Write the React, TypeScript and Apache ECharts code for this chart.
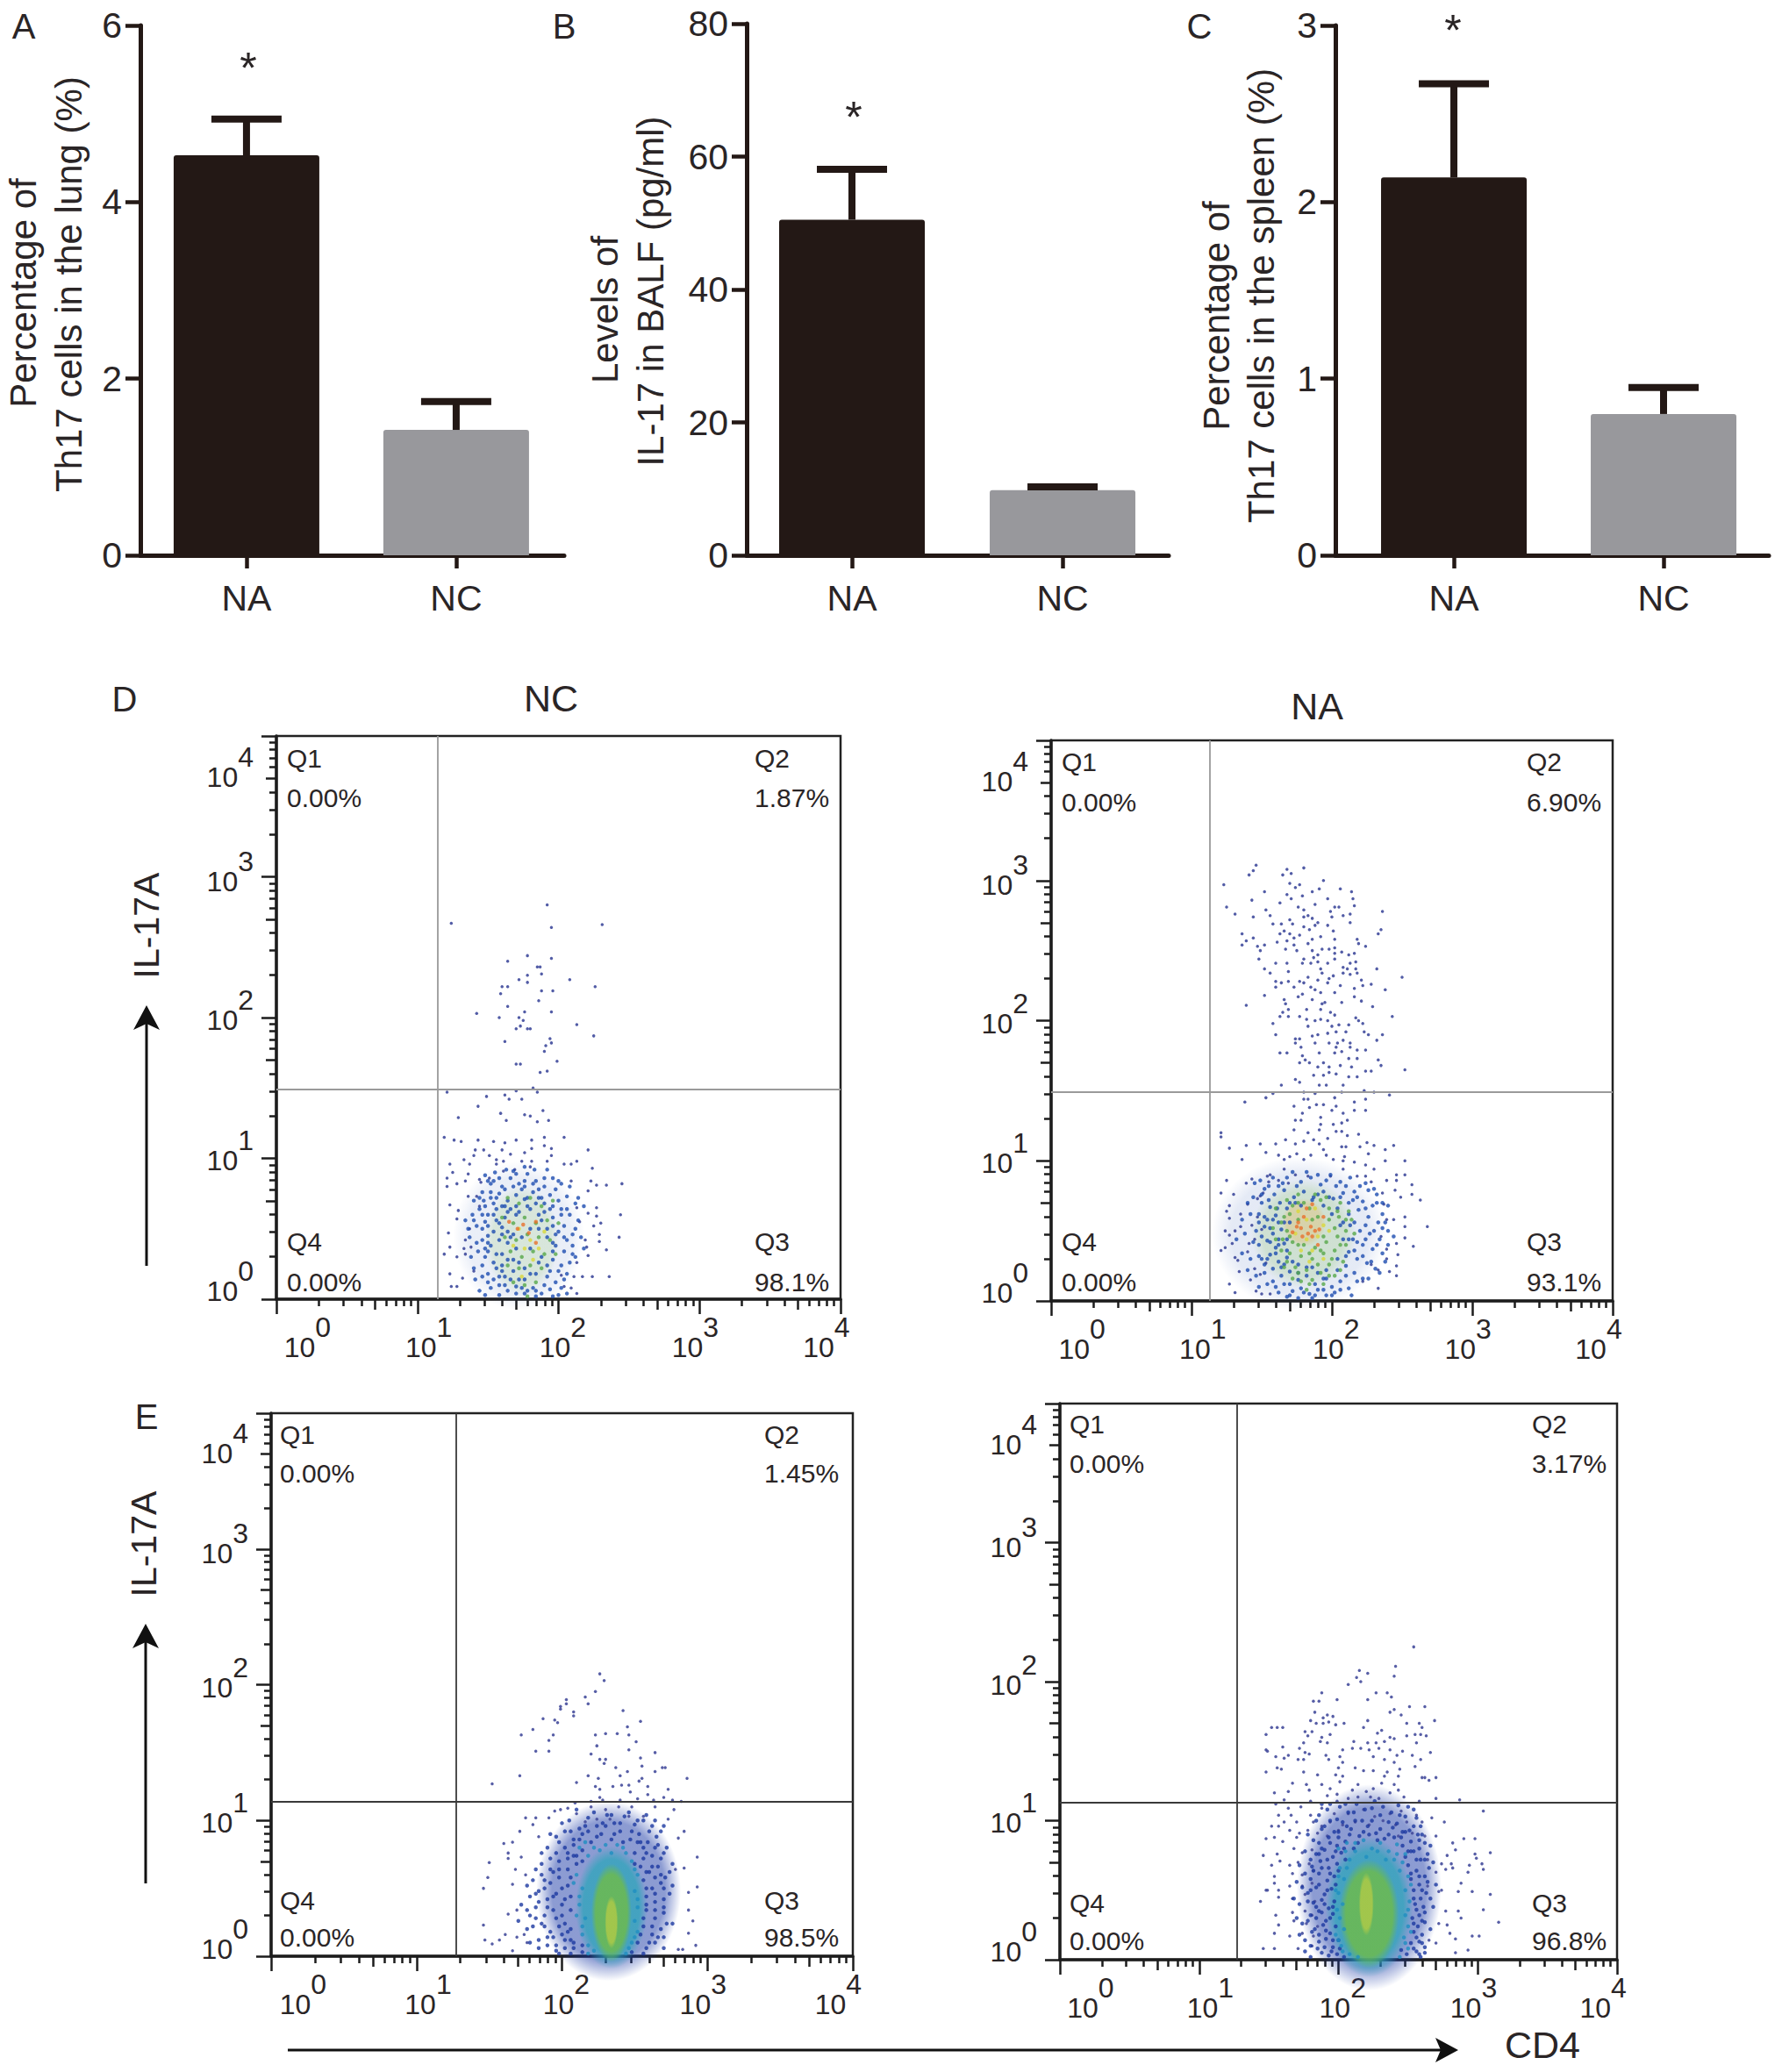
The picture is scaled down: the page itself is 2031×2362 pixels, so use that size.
import React, { useEffect, useRef } from "react";
import * as echarts from "echarts";

const FONT = "Liberation Sans";
const INK = "#2a2526";

const categories = ["NA", "NC"];
const lungMeans = [4.53, 1.42];
const lungErrTops = [4.94, 1.74];
const balfMeans = [50.5, 9.8];
const balfErrTops = [58.1, 10.3];
const spleenMeans = [2.14, 0.8];
const spleenErrTops = [2.67, 0.95];
const barColors = ["#231815", "#98989c"];

const exponents = [0, 1, 2, 3, 4];
const xLabelAt = [0.22, 1.08, 2.03, 2.97, 3.9];
const yLabelAt = [0.128, 1.056, 2.05, 3.04, 3.776];

// Flow panels: pairs of x,y in hundredths of a decade.
const dLeftSparse = [192,280,124,267,195,264,231,266,164,240,178,244,195,242,185,236,187,236,188,231,178,230,178,225,172,227,208,227,226,222,160,222,164,222,159,217,196,219,188,219,186,212,142,203,164,208,176,204,195,204,158,200,172,200,175,198,213,195,170,192,173,194,178,192,180,192,225,187,162,183,194,185,195,182,191,180,190,176,199,169,170,167,173,167,187,161,192,162,121,147,170,148,182,150,185,147,149,144,162,145,165,142,174,142,143,137,129,129,159,132,176,131,180,130,189,134,163,127,185,126,193,127,119,115,126,113,131,112,143,113,154,112,162,111,170,113,181,113,190,115,204,115,190,109,195,107,221,106,141,106,147,106,160,106,176,104,181,107,140,102,151,102,166,103,195,102,133,99,123,96,137,96,156,99,161,98,174,98,181,98,192,98,204,96,209,96,213,98,224,93,156,96,169,92,180,94,121,86,125,90,136,89,144,85,151,86,161,91,121,80,128,82,134,84,123,67,129,63,128,57,122,47,119,32,128,30,123,37,123,18,124,9,134,32,132,15,133,36,128,9,140,20,138,37,137,50,134,42,142,73,145,83,136,73,144,66,245,82,234,81,227,81,223,84,221,77,244,60,243,44,227,65,227,59,221,61,230,54,225,52,229,46,229,41,234,35,220,37,219,42,215,55,213,65,209,84,221,31,217,16,224,16,236,16,213,26,209,8,213,4,204,9,211,16,202,17];
const dLeftBlue = [148,88,154,84,160,80,166,86,172,82,178,89,184,84,190,80,196,86,146,76,152,72,158,75,164,70,170,74,176,71,182,76,188,72,194,74,200,70,206,73,144,64,150,60,156,64,162,58,190,62,196,58,202,64,208,60,214,56,142,52,148,55,154,48,160,51,192,50,198,46,204,52,210,46,216,44,146,42,152,38,158,42,198,38,204,34,210,38,218,36,148,30,154,26,160,32,196,28,202,24,208,26,150,18,156,22,162,16,168,20,176,14,184,18,192,16,198,12,204,14,152,8,158,10,164,6,170,9,176,4,182,8,188,4,194,7,200,3,158,3,143,34,137,44,139,60,134,56,146,24,141,14,150,45,147,70,155,90,163,92,176,94,183,92,164,62,170,60,180,64,186,60,150,84,152,82,158,86,168,91,170,89,174,78,176,80,186,78,192,92,198,78,202,82,208,80,214,72,218,66,212,68,140,70,144,72,148,66,154,68,160,66,166,64,172,62,178,66,184,68,190,68,196,66,202,60,206,64,136,50,140,56,146,50,150,52,156,56,160,46,164,48,168,46,174,44,180,50,186,50,192,44,196,40,200,48,206,42,212,50,138,30,142,40,148,36,150,34,156,32,160,24,164,28,168,28,172,26,176,22,180,18,186,26,192,24,196,34,200,20,206,18,212,30,140,22,146,16,150,12,154,14,158,16,162,10,166,14,170,4,174,8,178,6,184,2,190,10,196,2,202,8,206,4,144,6,148,3,152,76,156,72,162,78,168,80,176,84,182,82,190,86,200,84,194,64,186,72,178,72,170,66,162,66,154,60,146,60,150,40,158,54,164,40,170,36,180,36,188,30,194,20,184,6,172,14,160,20,166,44,188,56,196,52,204,44,210,32];
const dLeftGreen = [164,72,172,68,180,72,188,66,196,70,160,58,168,54,176,58,184,54,192,56,200,54,162,44,170,42,178,46,186,44,194,42,166,34,174,30,182,34,190,32,198,32,164,24,172,22,180,24,188,22,168,12,176,10,184,12,178,2];
const dLeftYellow = [172,50,180,42,186,36,168,38,176,36,182,28,174,16,190,48];
const dLeftHot = [165,55,171,50,179,47,184,55,175,53,184,40];

const dRightSparse = [146,311,141,304,144,307,123,297,165,304,168,308,171,305,180,309,194,300,206,294,214,292,215,287,216,282,236,278,191,294,186,292,170,298,174,295,177,297,179,289,168,290,171,287,163,284,152,292,143,286,125,281,131,276,144,274,153,279,156,275,176,281,180,279,188,283,202,281,205,281,197,287,199,278,200,274,208,275,213,276,213,270,235,265,233,262,136,262,144,259,139,257,136,254,158,269,164,269,170,272,172,269,180,274,183,275,186,273,190,270,188,268,184,265,180,267,163,262,166,264,170,262,177,261,168,257,173,259,161,256,173,254,186,258,192,260,197,268,201,264,202,258,218,258,219,255,224,253,147,253,152,254,149,250,167,251,175,250,183,255,186,250,193,251,198,251,202,252,202,248,207,249,212,247,216,248,190,247,187,245,148,244,160,241,168,241,180,244,179,241,185,241,190,242,197,241,202,244,217,242,213,241,152,237,156,234,169,235,192,237,193,234,208,238,211,237,217,237,218,234,232,237,250,231,183,231,190,229,198,230,201,232,208,234,213,233,221,229,160,228,164,227,169,228,177,228,160,224,173,224,180,227,185,224,197,227,206,225,216,223,222,225,228,226,238,222,152,218,176,217,179,219,188,222,192,220,202,220,216,217,186,215,139,211,166,215,167,212,193,212,195,213,207,213,221,214,229,210,169,208,165,206,182,208,192,208,199,206,202,204,243,203,163,203,169,203,177,203,182,201,188,200,192,201,197,200,217,202,219,200,158,198,212,197,222,198,183,196,200,196,205,197,160,190,190,190,186,189,197,191,203,192,210,192,223,192,226,190,236,190,174,187,177,187,208,186,213,184,232,186,188,184,198,184,174,184,204,184,203,181,178,181,213,181,218,179,224,179,202,177,207,178,163,177,168,177,191,177,179,175,181,172,184,170,177,170,212,173,218,173,233,172,235,168,190,167,194,170,198,167,206,168,214,167,224,164,228,164,252,165,187,161,194,161,198,163,203,162,212,160,218,160,174,158,177,156,164,154,191,154,196,154,208,154,138,142,153,145,158,148,180,149,188,148,207,149,223,150,230,149,241,147,180,144,183,144,202,145,216,142,224,144,173,139,184,138,189,140,194,140,203,139,200,136,216,136,224,136,179,134,174,129,178,129,192,131,208,134,211,129,207,127,192,126,201,126,173,122,191,122,183,120,203,121,207,121,121,120,121,117,211,118,219,119,187,115,197,116,167,115,127,109,139,111,149,112,160,112,174,112,180,114,191,112,207,110,210,110,220,110,225,113,230,111,244,111,238,108,153,106,162,104,170,103,175,105,185,104,194,108,196,104,209,103,226,105,136,101,166,101,180,101,201,101,208,100,238,100,252,100,125,86,121,77,130,76,139,84,143,87,127,68,125,64,135,62,127,59,143,54,135,53,124,50,131,50,127,47,129,41,121,36,124,38,131,31,140,35,141,41,145,44,133,29,134,21,127,12,131,6,142,15,146,7,150,5,145,23,140,69,147,73,151,77,154,89,155,85,149,75,147,60,150,51,153,27,149,19,156,5,268,53,263,72,257,83,257,76,252,90,246,90,246,86,249,74,252,60,252,53,258,39,252,45,247,33,246,41,246,25,246,18,241,21,233,9,244,58,239,58,235,46,239,37,239,30,233,22,228,26,222,14,237,69,236,77,245,79,239,86,228,85,230,94,224,97,216,99,208,94,199,89,183,89,174,90,166,94,156,90,162,86,169,84,218,89,224,89];
const dRightBlue = [158,88,165,84,172,92,178,85,185,88,192,83,199,90,206,85,213,88,220,82,226,79,232,76,152,80,159,76,166,79,173,74,180,78,187,74,194,78,201,73,208,77,215,72,222,71,229,68,236,62,150,70,156,67,163,70,204,66,212,62,219,65,226,60,233,56,240,50,148,62,154,58,160,61,166,56,213,54,220,50,227,48,234,44,146,50,152,53,158,48,164,51,215,44,222,40,229,37,236,34,148,40,154,43,160,38,166,41,212,35,218,30,225,27,231,23,150,30,156,33,162,28,168,31,210,25,216,20,222,16,152,20,158,23,164,18,170,21,176,15,182,18,188,12,194,16,200,10,206,14,212,9,160,10,166,12,172,7,178,9,184,5,190,8,196,4,202,6,168,3,176,2,186,2,170,70,178,68,186,72,194,68,200,62,158,58,162,44,168,36,176,26,186,24,196,22,204,30,208,44,206,54,145,84,149,86,155,82,162,82,168,88,175,82,182,92,190,90,196,86,203,82,210,82,216,78,224,84,230,80,236,70,240,68,140,70,144,74,150,76,155,72,161,66,168,66,174,70,190,76,198,74,206,74,212,70,218,74,224,66,232,70,238,56,244,46,136,58,142,62,148,56,152,60,156,52,162,56,170,56,208,56,216,56,224,54,230,50,236,52,240,40,132,44,138,48,144,42,150,46,156,42,162,40,168,44,212,44,218,42,224,44,232,40,238,28,136,34,142,30,148,32,154,30,160,34,166,26,172,28,210,32,216,36,222,32,228,28,234,20,140,22,146,18,152,26,158,14,164,24,170,12,176,20,182,24,190,20,196,16,204,22,210,18,218,14,226,16,148,10,154,12,162,6,170,4,180,6,188,4,194,8,200,4,206,8,214,4];
const dRightGreen = [168,72,176,76,184,66,192,72,198,66,206,70,212,64,170,62,176,58,190,60,198,58,205,60,214,58,210,50,216,48,168,50,165,44,172,42,180,40,188,38,196,42,204,46,210,40,170,34,178,32,186,30,194,34,202,36,208,28,174,24,182,22,190,26,198,26,178,14,186,15,194,12,166,60,164,36,158,52,160,66,202,18,172,16,172,68,180,70,188,76,196,74,204,64,210,58,164,56,170,46,176,40,184,34,192,36,200,30,206,40,176,70,186,58,194,46,202,52,168,28,176,20,184,12,192,20,198,18,206,22,182,8,160,44,166,24];
const dRightYellow = [176,64,182,58,188,66,194,54,174,48,182,44,190,46,198,50,178,36,186,36,194,30,184,28];
const dRightHot = [186,69,180,60,175,53,185,53,191,51,179,46,186,46,172,49,182,66,176,56,194,60,190,40,178,52,188,50,183,48];

const eLeftSparse = [226,208,229,203,223,195,216,191,218,186,203,189,203,186,199,184,199,182,208,180,208,177,242,181,254,173,187,175,195,174,197,172,180,167,172,163,191,159,194,163,223,163,230,164,238,164,246,163,245,169,251,158,224,155,182,151,191,151,246,152,264,150,220,149,226,145,230,145,229,142,254,146,255,140,237,139,271,139,269,139,264,136,245,136,240,133,218,133,171,133,152,127,210,128,286,131,225,131,253,129,255,131,273,123,223,125,226,123,235,125,241,126,246,126,259,125,247,121,226,117,259,119,270,117,220,114,228,115,240,115,252,116,263,115,276,115,282,114,209,113,175,102,182,102,180,97,191,102,195,107,199,108,204,109,210,105,220,110,230,108,239,110,248,110,264,110,277,108,273,101,216,99,224,101,233,101,246,103,256,103,171,92,184,88,160,83,166,84,163,76,163,72,172,73,150,69,149,58,146,50,168,64,175,60,166,53,163,31,169,34,146,23,147,12,157,12,152,9,161,16,169,14,174,16,176,10,166,4,284,92,280,87,293,73,284,65,278,64,293,51,287,47,287,34,290,26,287,17,292,8,283,5,280,5];
const eLeftBlue = [205,100,212,94,218,102,224,96,231,104,236,98,243,103,250,97,256,100,262,96,268,92,196,88,202,92,208,86,214,90,220,84,227,90,234,86,240,92,247,86,253,90,259,84,265,88,272,80,190,80,196,76,202,80,208,74,214,78,250,76,256,80,262,74,268,72,186,68,192,64,198,70,204,64,210,68,254,66,260,62,266,66,271,58,180,56,186,60,192,54,198,58,204,52,256,56,262,50,268,54,274,46,178,44,184,48,190,42,196,46,202,42,258,44,264,40,270,42,176,34,182,36,188,30,194,34,200,30,206,34,258,34,264,28,270,32,276,24,180,22,186,24,192,18,198,22,204,18,256,22,262,16,268,20,184,12,190,14,196,8,202,12,208,6,252,10,258,6,264,10,270,6,198,2,206,2,214,3,248,3,256,2,210,108,216,96,222,106,228,98,234,104,240,98,246,106,252,100,258,104,264,100,270,96,200,98,206,92,212,86,218,92,224,88,230,96,236,90,242,84,248,92,254,84,260,92,266,82,192,90,198,84,204,76,208,82,214,70,252,84,258,76,264,80,270,76,276,68,186,76,192,72,198,64,204,72,210,74,250,68,256,72,262,66,268,60,274,62,182,64,188,56,194,62,200,50,206,58,258,62,264,58,270,50,276,52,176,52,182,46,188,50,194,44,200,38,206,44,258,50,264,46,270,36,172,38,178,30,184,40,190,36,196,28,202,24,206,20,258,38,264,34,272,24,170,26,176,20,182,28,188,22,194,14,200,16,206,12,256,28,262,22,270,14,178,10,184,6,190,8,196,4,202,6,208,10,214,8,254,16,260,10,266,14];
const eLeftCyan = [212,80,218,74,226,78,234,76,242,80,248,70,252,60,210,60,214,50,250,48,212,38,216,28,252,36,250,26,214,16,218,8,250,14,246,6,222,4,216,84,222,80,230,82,238,82,244,76,250,64,208,54,212,44,252,42,210,30,214,22,252,18,248,10,218,2,244,2];

const eRightSparse = [254,225,241,211,240,204,215,208,221,206,213,203,216,200,207,198,188,192,227,192,235,192,238,189,199,187,221,187,182,186,186,186,251,182,262,182,240,180,237,178,245,176,183,178,189,174,192,176,196,175,180,172,184,170,189,170,193,171,204,170,221,172,218,167,269,172,249,170,258,170,260,167,152,167,156,167,160,167,198,169,148,162,176,164,181,164,178,161,188,160,194,162,231,165,228,163,249,161,255,162,259,162,263,161,237,160,240,159,187,157,192,156,175,156,211,157,221,156,227,156,233,157,256,156,148,151,160,153,172,152,176,149,179,148,203,151,210,152,216,152,222,151,229,152,237,151,246,150,266,149,149,150,155,146,164,147,171,144,175,144,191,147,201,146,225,146,242,147,253,147,259,144,161,145,193,144,203,142,233,144,240,142,156,138,159,137,148,135,175,135,185,133,200,138,212,138,218,136,225,136,235,135,244,137,255,139,198,133,203,132,233,132,243,132,262,131,270,131,265,129,167,127,177,126,188,126,201,128,214,126,231,127,240,126,260,131,154,120,164,121,179,122,194,123,210,122,220,121,225,123,243,122,237,120,199,119,192,118,207,116,214,117,223,117,229,116,247,117,155,112,161,115,180,114,199,114,258,114,270,116,287,115,164,109,173,110,304,107,188,109,157,104,166,104,180,104,197,105,207,105,218,108,226,103,237,105,245,107,256,104,267,102,152,96,157,96,161,99,170,99,182,99,188,96,194,99,203,97,212,99,222,97,232,100,241,97,249,99,260,99,276,99,148,87,154,88,160,85,165,93,170,88,172,91,178,93,185,91,192,89,200,93,243,89,253,91,262,89,270,89,290,87,298,87,282,84,146,75,156,76,168,80,174,77,181,79,284,79,309,77,298,76,278,75,152,68,158,71,165,68,171,70,179,69,264,72,274,69,281,69,299,73,303,69,294,68,270,63,277,65,282,66,293,63,304,65,154,60,167,62,174,61,182,64,154,55,148,50,144,42,149,50,157,50,165,53,174,53,181,55,264,53,274,50,288,55,286,49,296,49,309,47,272,49,157,45,167,44,176,47,183,42,155,32,167,34,176,35,181,32,277,35,286,35,288,30,304,36,315,27,157,25,168,28,177,26,185,24,272,26,278,25,280,19,154,19,165,17,174,19,182,17,265,14,270,12,284,15,296,17,301,17,146,8,154,8,171,8,181,10,293,7,284,5];
const eRightBlue = [186,104,192,108,199,101,205,112,211,106,217,100,224,109,230,104,236,99,243,111,248,103,254,108,259,96,190,96,197,92,203,99,209,94,215,89,221,96,227,91,233,87,239,95,245,88,251,93,257,90,262,84,186,84,193,88,199,82,205,85,211,80,246,82,252,85,258,80,264,76,184,76,190,79,196,74,202,77,248,74,254,78,259,72,265,66,181,67,187,71,193,66,199,69,205,72,250,68,256,64,262,60,180,58,186,62,192,57,197,60,252,58,258,54,263,48,178,48,184,52,190,47,195,51,254,50,259,44,261,38,182,41,188,43,193,37,197,42,255,40,258,32,262,27,180,32,186,35,191,28,196,33,253,30,257,24,260,18,183,22,189,25,194,19,198,24,254,20,258,13,262,9,186,13,191,15,196,9,200,14,252,12,256,6,259,2,188,5,193,3,199,4,204,2,249,4,245,7,188,112,194,112,201,110,207,106,213,112,219,108,226,114,232,110,238,106,244,104,250,110,256,102,184,100,188,94,194,100,200,92,206,96,212,100,218,92,224,100,230,94,236,90,242,98,248,92,254,96,260,90,178,90,182,86,188,80,194,84,200,88,208,90,214,84,222,90,228,86,240,88,246,92,252,78,258,86,266,82,176,78,180,72,186,76,192,72,198,78,204,80,250,78,256,72,262,72,268,70,172,68,176,62,182,64,188,66,194,62,200,64,252,62,258,60,264,56,270,54,170,56,174,52,180,50,186,54,192,50,198,54,254,44,260,50,266,44,168,44,172,40,178,42,184,38,190,40,196,38,256,36,262,34,268,38,170,30,174,26,178,28,184,30,188,34,194,30,254,26,260,28,266,22,172,18,176,14,181,20,186,18,191,21,196,14,256,16,260,12,176,6,180,10,185,8,190,9,195,6,201,8,254,8,258,4,262,5,180,2];
const eRightCyan = [200,80,206,84,212,78,218,86,224,80,230,84,236,78,242,83,248,76,201,66,204,58,200,48,203,40,201,30,204,22,200,14,203,6,246,70,250,60,248,50,251,42,248,32,250,24,247,16,250,8,208,72,240,72,205,78,212,84,220,74,228,78,234,72,242,76,200,60,198,50,199,36,198,18,202,10,206,66,244,64,252,54,250,36,252,20,248,12,244,2,208,4,214,2];

const quadrantNames = ["Q1", "Q2", "Q4", "Q3"];
const dLeftPercents = ["0.00%", "1.87%", "0.00%", "98.1%"];
const dRightPercents = ["0.00%", "6.90%", "0.00%", "93.1%"];
const eLeftPercents = ["0.00%", "1.45%", "0.00%", "98.5%"];
const eRightPercents = ["0.00%", "3.17%", "0.00%", "96.8%"];

const ELLIPSE = "path://M0 50A50 50 0 1 0 100 50A50 50 0 1 0 0 50Z";

const pairs = (flat: number[]) => {
  const out: number[][] = [];
  for (let i = 0; i + 1 < flat.length; i += 2) out.push([flat[i] / 100, flat[i + 1] / 100]);
  return out;
};

const text = (t: string, x: number, y: number, fontSize: number, opts: any = {}) => ({
  type: "text",
  x,
  y,
  rotation: opts.rotation || 0,
  silent: true,
  style: { text: t, fontSize, fontFamily: FONT, fill: INK, align: opts.align || "center", verticalAlign: "middle" },
});

const barPanels = [
  { means: lungMeans, tops: lungErrTops, max: 6, step: 2, left: 160, top: 29, width: 483, height: 604, xMin: -0.506, xMax: 1.515 },
  { means: balfMeans, tops: balfErrTops, max: 80, step: 20, left: 851, top: 27, width: 481, height: 606, xMin: -0.5, xMax: 1.504 },
  { means: spleenMeans, tops: spleenErrTops, max: 3, step: 1, left: 1522, top: 29, width: 494, height: 604, xMin: -0.565, xMax: 1.502 },
];

const flowPanels = [
  {
    left: 315, top: 839, width: 643, height: 642, gateX: 1.14, gateY: 1.488, gateColor: "#9a9a9a",
    sparse: dLeftSparse, sparseColor: "#3f4a9c",
    layers: [[dLeftBlue, "#1d4cb0"], [dLeftGreen, "#56a84a"], [dLeftYellow, "#d9d83a"], [dLeftHot, "#e8702c"]],
    hazes: [
      { at: [1.72, 0.45], size: [150, 170], color: "rgba(35,80,175,0.12)" },
      { at: [1.74, 0.42], size: [85, 125], color: "rgba(120,185,70,0.2)" },
    ],
    percents: dLeftPercents, qx: [327, 860], qy: [864, 909, 1415, 1461],
  },
  {
    left: 1198, top: 844, width: 640, height: 639, gateX: 1.13, gateY: 1.49, gateColor: "#9a9a9a",
    sparse: dRightSparse, sparseColor: "#3f4a9c",
    layers: [[dRightBlue, "#1d4cb0"], [dRightGreen, "#56a84a"], [dRightYellow, "#d9d83a"], [dRightHot, "#e8702c"]],
    hazes: [
      { at: [1.77, 0.48], size: [200, 175], color: "rgba(35,80,175,0.15)" },
      { at: [1.8, 0.48], size: [120, 125], color: "rgba(120,185,70,0.25)" },
      { at: [1.8, 0.56], size: [50, 55], color: "rgba(240,165,45,0.3)" },
    ],
    percents: dRightPercents, qx: [1210, 1740], qy: [868, 914, 1415, 1461],
  },
  {
    left: 309, top: 1611, width: 663, height: 619, gateX: 1.27, gateY: 1.14, gateColor: "#3a3a3a",
    sparse: eLeftSparse, sparseColor: "#454c9c",
    layers: [[eLeftBlue, "#1c38a0"], [eLeftCyan, "#1e8fc0"]],
    hazes: [
      { at: [2.32, 0.48], size: [165, 205], color: "rgba(24,55,165,0.62)" },
      { at: [2.34, 0.36], size: [82, 140], color: "rgba(40,165,185,0.9)" },
      { at: [2.34, 0.32], size: [46, 112], color: "rgba(115,190,60,0.92)" },
      { at: [2.34, 0.25], size: [15, 60], color: "rgba(225,215,55,0.6)" },
    ],
    percents: eLeftPercents, qx: [319, 871], qy: [1635, 1679, 2166, 2208],
  },
  {
    left: 1208, top: 1600, width: 635, height: 634, gateX: 1.27, gateY: 1.13, gateColor: "#3a3a3a",
    sparse: eRightSparse, sparseColor: "#454c9c",
    layers: [[eRightBlue, "#1c38a0"], [eRightCyan, "#1e8fc0"]],
    hazes: [
      { at: [2.22, 0.52], size: [165, 235], color: "rgba(24,55,165,0.62)" },
      { at: [2.22, 0.38], size: [100, 160], color: "rgba(40,165,185,0.9)" },
      { at: [2.22, 0.33], size: [68, 124], color: "rgba(115,190,60,0.92)" },
      { at: [2.2, 0.4], size: [17, 72], color: "rgba(225,215,55,0.6)" },
    ],
    percents: eRightPercents, qx: [1219, 1746], qy: [1623, 1668, 2169, 2212],
  },
];

const buildOption = () => {
  const grid: any[] = [];
  const xAxis: any[] = [];
  const yAxis: any[] = [];
  const series: any[] = [];

  barPanels.forEach((p) => {
    const g = grid.length;
    grid.push({ left: p.left, top: p.top, width: p.width, height: p.height, show: false });
    const xi = xAxis.length;
    const yi = yAxis.length;
    xAxis.push({
      type: "value", gridIndex: g, min: p.xMin, max: p.xMax, position: "bottom", splitLine: { show: false },
      axisLine: { show: true, onZero: false, lineStyle: { color: "#231815", width: 5 } },
      axisTick: { show: true, customValues: [0, 1], length: 15, lineStyle: { color: "#231815", width: 4.5 } },
      axisLabel: {
        show: true, customValues: [0, 1], margin: 28, fontSize: 41, fontFamily: FONT, color: INK,
        formatter: (v: number) => categories[Math.round(v)],
      },
    });
    yAxis.push({
      type: "value", gridIndex: g, min: 0, max: p.max, interval: p.step, position: "left", splitLine: { show: false },
      axisLine: { show: true, onZero: false, lineStyle: { color: "#231815", width: 5 } },
      axisTick: { show: true, length: 17, lineStyle: { color: "#231815", width: 4.5 } },
      axisLabel: { margin: 21, fontSize: 41, fontFamily: FONT, color: INK },
    });
    series.push({
      type: "bar", xAxisIndex: xi, yAxisIndex: yi, barWidth: 166, clip: false, z: 1,
      data: p.means.map((m, i) => ({ value: [i, m], itemStyle: { color: barColors[i], borderRadius: [3, 3, 0, 0] } })),
    });
    series.push({
      type: "custom", xAxisIndex: xi, yAxisIndex: yi, clip: false, z: 2,
      data: p.means.map((m, i) => [i, m, p.tops[i]]),
      encode: { x: 0, y: [1, 2] },
      renderItem: (_: any, api: any) => {
        const a = api.coord([api.value(0), api.value(1)]);
        const b = api.coord([api.value(0), api.value(2)]);
        const style = { stroke: "#231815", lineWidth: 8, fill: "none" };
        return {
          type: "group",
          children: [
            { type: "line", shape: { x1: a[0], y1: a[1], x2: b[0], y2: b[1] }, style },
            { type: "line", shape: { x1: b[0] - 40, y1: b[1], x2: b[0] + 40, y2: b[1] }, style },
          ],
        };
      },
    });
  });

  const mid = [0, 1, 2, 3].map((n) => n + Math.log10(5));
  const minor: number[] = [];
  [0, 1, 2, 3].forEach((n) => [2, 3, 4, 6, 7, 8, 9].forEach((m) => minor.push(n + Math.log10(m))));

  const flowAxis = (g: number, isX: boolean, pos: number[], len: number, withLine: boolean, labels: number[] | null) => ({
    type: "value", gridIndex: g, min: 0, max: 4, position: isX ? "bottom" : "left", splitLine: { show: false },
    axisLine: { show: withLine, onZero: false, lineStyle: { color: "#1c1c1c", width: 3.5 } },
    axisTick: { show: true, customValues: pos, length: len, lineStyle: { color: "#1c1c1c", width: 2.5 } },
    axisLabel: labels
      ? {
          show: true, customValues: labels, margin: isX ? 16 : 26, color: INK, fontFamily: FONT,
          formatter: (v: number) => {
            const i = labels.indexOf(v);
            return `{b|10}{s|${exponents[i < 0 ? 0 : i]}}`;
          },
          rich: {
            b: { fontSize: 32, fontFamily: FONT, color: INK, padding: [23, 0, 0, 0] },
            s: { fontSize: 32, fontFamily: FONT, color: INK, padding: [0, 0, 23, 0] },
          },
        }
      : { show: false },
  });

  flowPanels.forEach((p) => {
    const g = grid.length;
    grid.push({ left: p.left, top: p.top, width: p.width, height: p.height, show: true, borderColor: "#222", borderWidth: 2.5, backgroundColor: "transparent" });
    const xi = xAxis.length;
    const yi = yAxis.length;
    xAxis.push(flowAxis(g, true, exponents, 17, true, xLabelAt));
    xAxis.push(flowAxis(g, true, mid, 12, false, null));
    xAxis.push(flowAxis(g, true, minor, 8, false, null));
    yAxis.push(flowAxis(g, false, exponents, 17, true, yLabelAt));
    yAxis.push(flowAxis(g, false, mid, 12, false, null));
    yAxis.push(flowAxis(g, false, minor, 8, false, null));
    p.hazes.forEach((h) => {
      series.push({
        type: "scatter", xAxisIndex: xi, yAxisIndex: yi, clip: true, silent: true, z: 1,
        symbol: ELLIPSE, symbolKeepAspect: false, symbolSize: h.size, data: [h.at],
        itemStyle: {
          color: {
            type: "radial", x: 0.5, y: 0.5, r: 0.5,
            colorStops: [
              { offset: 0, color: h.color },
              { offset: 0.78, color: h.color },
              { offset: 1, color: h.color.replace(/[\d.]+\)$/, "0)") },
            ],
          },
        },
      });
    });
    series.push({
      type: "scatter", xAxisIndex: xi, yAxisIndex: yi, clip: true, silent: true, z: 2,
      symbolSize: 3.5, data: pairs(p.sparse), itemStyle: { color: p.sparseColor, opacity: 0.9 },
      markLine: {
        silent: true, symbol: "none", label: { show: false },
        lineStyle: { color: p.gateColor, width: 1.8, type: "solid" },
        data: [{ xAxis: p.gateX }, { yAxis: p.gateY }],
      },
    });
    (p.layers as any[]).forEach(([flat, color], i) => {
      series.push({
        type: "scatter", xAxisIndex: xi, yAxisIndex: yi, clip: true, silent: true, z: 3 + i,
        symbolSize: 4.5, data: pairs(flat), itemStyle: { color },
      });
    });
  });

  const graphic: any[] = [
    text("A", 27, 30, 40), text("B", 643, 30, 40), text("C", 1367, 30, 40),
    text("D", 142, 797, 40), text("E", 167, 1615, 40),
    text("*", 283, 78, 50), text("*", 973, 134, 50), text("*", 1656, 35, 50),
    text("NC", 628, 796, 43), text("NA", 1501, 805, 43),
    text("Percentage of", 26, 334, 42, { rotation: Math.PI / 2 }),
    text("Th17 cells in the lung (%)", 78, 324, 42, { rotation: Math.PI / 2 }),
    text("Levels of", 689, 353, 42, { rotation: Math.PI / 2 }),
    text("IL-17 in BALF (pg/ml)", 741, 332, 42, { rotation: Math.PI / 2 }),
    text("Percentage of", 1386, 360, 42, { rotation: Math.PI / 2 }),
    text("Th17 cells in the spleen (%)", 1437, 337, 42, { rotation: Math.PI / 2 }),
    text("IL-17A", 167, 1055, 41, { rotation: Math.PI / 2 }),
    text("IL-17A", 164, 1760, 41, { rotation: Math.PI / 2 }),
    text("CD4", 1758, 2331, 43),
  ];
  const arrow = (x1: number, y1: number, x2: number, y2: number) => {
    const horizontal = y1 === y2;
    graphic.push({ type: "line", silent: true, shape: { x1, y1, x2, y2 }, style: { stroke: "#111", lineWidth: 3 } });
    graphic.push({
      type: "polygon", silent: true,
      shape: {
        points: horizontal
          ? [[x2 + 4, y2], [x2 - 22, y2 - 14], [x2 - 16, y2], [x2 - 22, y2 + 14]]
          : [[x2, y2 - 4], [x2 - 15, y2 + 24], [x2, y2 + 17], [x2 + 15, y2 + 24]],
      },
      style: { fill: "#111" },
    });
  };
  arrow(167, 1443, 167, 1150);
  arrow(166, 2147, 166, 1855);
  arrow(328, 2337, 1658, 2337);

  flowPanels.forEach((p) => {
    quadrantNames.forEach((q, i) => {
      const x = p.qx[i % 2];
      const row = i < 2 ? 0 : 2;
      graphic.push(text(q, x, p.qy[row], 30, { align: "left" }));
      graphic.push(text(p.percents[i], x, p.qy[row + 1], 30, { align: "left" }));
    });
  });

  return { animation: false, backgroundColor: "#fff", grid, xAxis, yAxis, series, graphic };
};

export default function App() {
  const ref = useRef<HTMLDivElement>(null);
  useEffect(() => {
    const chart = echarts.init(ref.current!, null, { renderer: "svg" });
    chart.setOption(buildOption() as any);
    return () => chart.dispose();
  }, []);
  return <div ref={ref} style={{ position: "absolute", left: 0, top: 0, width: 2031, height: 2362 }} />;
}
